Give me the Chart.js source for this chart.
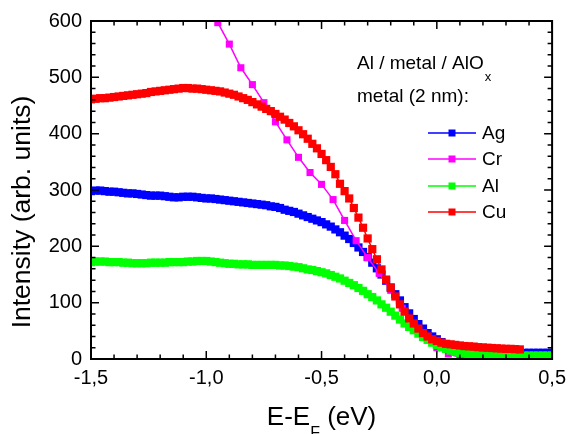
<!DOCTYPE html>
<html>
<head>
<meta charset="utf-8">
<script src="https://cdn.jsdelivr.net/npm/chart.js@4/dist/chart.umd.min.js"></script>
<style>
  body { margin: 0; background: #fff; }
  canvas { display: block; }
</style>
</head>
<body>
<canvas id="spectraChart" width="573" height="434"></canvas>
<script>
// energy grid of the dense scans (eV)
const energy = [
  -1.50, -1.48, -1.46, -1.44, -1.42, -1.40, -1.38, -1.36, -1.34, -1.32,
  -1.30, -1.28, -1.26, -1.24, -1.22, -1.20, -1.18, -1.16, -1.14, -1.12,
  -1.10, -1.08, -1.06, -1.04, -1.02, -1.00, -0.98, -0.96, -0.94, -0.92,
  -0.90, -0.88, -0.86, -0.84, -0.82, -0.80, -0.78, -0.76, -0.74, -0.72,
  -0.70, -0.68, -0.66, -0.64, -0.62, -0.60, -0.58, -0.56, -0.54, -0.52,
  -0.50, -0.48, -0.46, -0.44, -0.42, -0.40, -0.38, -0.36, -0.34, -0.32,
  -0.30, -0.28, -0.26, -0.24, -0.22, -0.20, -0.18, -0.16, -0.14, -0.12,
  -0.10, -0.08, -0.06, -0.04, -0.02, 0.00, 0.02, 0.04, 0.06, 0.08,
  0.10, 0.12, 0.14, 0.16, 0.18, 0.20, 0.22, 0.24, 0.26, 0.28,
  0.30, 0.32, 0.34, 0.36, 0.38, 0.40, 0.42, 0.44, 0.46, 0.48,
  0.50
];

const agValues = [
  298, 299, 299, 298, 297, 297, 296, 295, 294, 294,
  293, 292, 291, 290, 290, 290, 289, 288, 287, 287,
  288, 288, 288, 287, 286, 285, 285, 284, 283, 282,
  281, 280, 279, 278, 277, 276, 275, 274, 273, 271,
  270, 268, 265, 263, 261, 258, 255, 252, 249, 246,
  243, 239, 235, 230, 225, 219, 213, 206, 198, 190,
  181, 171, 161, 150, 139, 127, 115, 104, 92, 81,
  71, 62, 54, 46, 40, 35, 30, 26, 23, 20,
  18, 16, 15, 14, 13, 13, 12, 12, 12, 12,
  11, 11, 11, 11, 11, 11, 11, 11, 11, 11,
  11
];

const alValues = [
  172, 173, 173, 173, 172, 172, 172, 171, 171, 170,
  170, 170, 170, 171, 171, 171, 171, 172, 172, 172,
  172, 173, 173, 174, 174, 174, 173, 172, 171, 170,
  169, 169, 168, 168, 168, 167, 167, 167, 167, 167,
  167, 166, 166, 165, 164, 163, 161, 159, 158, 156,
  154, 152, 149, 146, 143, 139, 135, 131, 126, 121,
  115, 110, 104, 97, 91, 84, 77, 70, 63, 57,
  51, 45, 39, 34, 29, 25, 21, 18, 15, 13,
  11, 10, 9, 8, 8, 8, 7, 7, 7, 7,
  7, 7, 7, 7, 6, 6, 6, 6, 6, 6,
  6
];

// Cu scan stops at 0.36 eV
const cuValues = [
  461, 462, 463, 463, 464, 465, 466, 467, 468, 469,
  470, 471, 472, 474, 475, 476, 477, 478, 479, 480,
  481, 481, 480, 480, 479, 478, 477, 476, 475, 473,
  471, 469, 466, 463, 460, 456, 452, 448, 444, 440,
  435, 430, 425, 419, 413, 406, 399, 391, 382, 374,
  364, 353, 341, 328, 311, 298, 285, 268, 251, 233,
  214, 195, 177, 159, 141, 126, 111, 97, 84, 72,
  63, 54, 46, 40, 35, 32, 29, 27, 26, 25,
  24, 23, 22.5, 22, 21, 20.5, 20, 19.5, 19, 18.5,
  18, 18, 17.5, 17
];

// Cr scan, coarser step
const crEnergy = [
  -0.95, -0.90, -0.85, -0.80, -0.75, -0.70, -0.65, -0.60, -0.55, -0.50,
  -0.45, -0.40, -0.35, -0.30, -0.25, -0.20, -0.15, -0.10, -0.05, 0.00,
  0.05, 0.10, 0.15, 0.20, 0.25, 0.30, 0.35
];
const crValues = [
  597, 559, 517, 487, 455, 421, 389, 358, 331, 310,
  283, 246, 210, 180, 152, 122, 90, 62, 38, 20,
  9, 3, 0, 0, -1, -1, -1
];

const seriesNames = ['Ag', 'Cr', 'Al', 'Cu'];
const seriesColors = ['#0000ff', '#ff00ff', '#00ff00', '#ff0000'];

const FONT = "'Liberation Sans', Arial, sans-serif";

const toPoints = (xs, ys) => ys.map((v, i) => ({ x: xs[i], y: v }));

const makeDataset = (idx, points, order, radius) => ({
  label: seriesNames[idx],
  data: points,
  borderColor: seriesColors[idx],
  backgroundColor: seriesColors[idx],
  borderWidth: 1.5,
  pointStyle: 'rect',
  pointRadius: radius,
  pointBorderWidth: 0,
  pointHoverRadius: radius,
  tension: 0,
  clip: 0,
  order
});

const datasets = [
  makeDataset(0, toPoints(energy, agValues), 3, 5.8),
  makeDataset(1, toPoints(crEnergy, crValues), 2, 5),
  makeDataset(2, toPoints(energy, alValues), 1, 5.8),
  makeDataset(3, toPoints(energy, cuValues), 0, 5.8)
];

// frame, inward ticks, axis titles and legend
const decorations = {
  id: 'decorations',
  afterDatasetsDraw(chart) {
    const { ctx, chartArea: a, scales: { x, y } } = chart;
    ctx.save();
    ctx.strokeStyle = '#000';
    ctx.lineWidth = 1.5;
    ctx.beginPath();
    for (let k = 0; k <= 20; k++) {
      const px = x.getPixelForValue(-1.5 + k * 0.1);
      const len = k % 5 === 0 ? 8 : 4.5;
      ctx.moveTo(px, a.bottom); ctx.lineTo(px, a.bottom - len);
      ctx.moveTo(px, a.top); ctx.lineTo(px, a.top + len);
    }
    for (let k = 0; k <= 30; k++) {
      const py = y.getPixelForValue(k * 20);
      const len = k % 5 === 0 ? 8 : 4.5;
      ctx.moveTo(a.left, py); ctx.lineTo(a.left + len, py);
      ctx.moveTo(a.right, py); ctx.lineTo(a.right - len, py);
    }
    ctx.stroke();
    ctx.lineWidth = 2;
    ctx.strokeRect(a.left, a.top, a.right - a.left, a.bottom - a.top);
    ctx.restore();
  },
  afterDraw(chart) {
    const { ctx, chartArea: a } = chart;
    ctx.save();
    ctx.fillStyle = '#000';

    // x title with subscript
    ctx.textBaseline = 'alphabetic';
    ctx.textAlign = 'left';
    const part1 = 'E-E', part3 = ' (eV)';
    ctx.font = `16px ${FONT}`;
    const wSub = ctx.measureText('F').width;
    ctx.font = `26px ${FONT}`;
    const w1 = ctx.measureText(part1).width, w3 = ctx.measureText(part3).width;
    const tx = (a.left + a.right) / 2 - (w1 + wSub + w3) / 2;
    ctx.fillText(part1, tx, 425);
    ctx.font = `16px ${FONT}`;
    ctx.fillText('F', tx + w1, 438);
    ctx.font = `26px ${FONT}`;
    ctx.fillText(part3, tx + w1 + wSub, 425);

    // y title
    ctx.save();
    ctx.translate(23, 212);
    ctx.rotate(-Math.PI / 2);
    ctx.textAlign = 'center';
    ctx.textBaseline = 'middle';
    ctx.font = `26.5px ${FONT}`;
    ctx.fillText('Intensity (arb. units)', 0, 0);
    ctx.restore();

    // legend heading
    ctx.font = `19px ${FONT}`;
    ctx.textAlign = 'left';
    ctx.textBaseline = 'middle';
    const head = 'Al / metal / AlO';
    ctx.fillText(head, 357, 64);
    const wh = ctx.measureText(head).width;
    ctx.font = `13px ${FONT}`;
    ctx.fillText('x', 357 + wh + 1, 77);
    ctx.font = `19px ${FONT}`;
    ctx.fillText('metal (2 nm):', 357, 97);

    // legend entries
    const rows = [133, 159, 186, 212];
    seriesNames.forEach((name, i) => {
      const ry = rows[i];
      ctx.strokeStyle = seriesColors[i];
      ctx.lineWidth = 1.5;
      ctx.beginPath();
      ctx.moveTo(428, ry); ctx.lineTo(476, ry);
      ctx.stroke();
      ctx.fillStyle = seriesColors[i];
      ctx.fillRect(452 - 3.5, ry - 3.5, 7, 7);
      ctx.fillStyle = '#000';
      ctx.fillText(name, 482, ry + 1);
    });
    ctx.restore();
  }
};

const ctx = document.getElementById('spectraChart').getContext('2d');
new Chart(ctx, {
  type: 'line',
  data: { datasets },
  options: {
    responsive: false,
    animation: false,
    events: [],
    layout: { padding: { top: 17, right: 16, left: 0, bottom: 0 } },
    plugins: { legend: { display: false }, title: { display: false }, tooltip: { enabled: false } },
    scales: {
      x: {
        type: 'linear',
        min: -1.5,
        max: 0.5,
        grid: { display: false, drawTicks: false },
        border: { display: false },
        ticks: {
          stepSize: 0.5,
          padding: 7,
          color: '#000',
          font: { family: FONT, size: 20 },
          callback: (v) => v.toFixed(1).replace('.', ',')
        },
        afterFit: (scale) => { scale.height = 75; }
      },
      y: {
        type: 'linear',
        min: 0,
        max: 600,
        grid: { display: false, drawTicks: false },
        border: { display: false },
        ticks: {
          stepSize: 100,
          padding: 9,
          color: '#000',
          font: { family: FONT, size: 20 }
        },
        afterFit: (scale) => { scale.width = 91; }
      }
    }
  },
  plugins: [decorations]
});
</script>
</body>
</html>
